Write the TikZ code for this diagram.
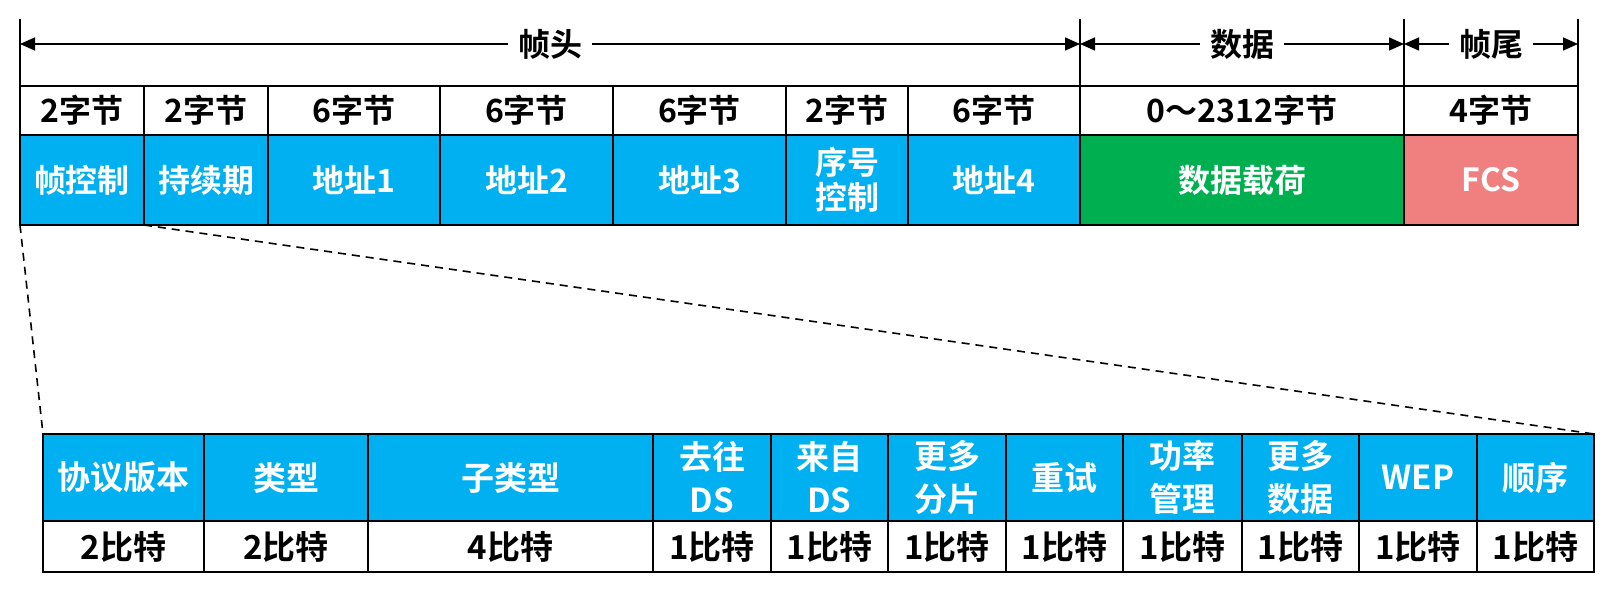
\documentclass[tikz,border=0pt]{standalone}
\usepackage{fontspec}
\setmainfont{Noto Sans CJK SC}[BoldFont={Noto Sans CJK SC Bold}]
\usetikzlibrary{arrows.meta}
\definecolor{cblue}{RGB}{0,176,240}
\definecolor{cgreen}{RGB}{0,176,80}
\definecolor{cpink}{RGB}{240,128,128}
\newcommand{\cellbox}[7]{\node[cell,#1,minimum width={(#4-#3)*1pt},minimum height={(#6-#5)*1pt}] (#2) at (#3,#5) {#7};}
\begin{document}
\begin{tikzpicture}[x=1pt,y=-1pt,
  cell/.style={draw=black, line width=1.7pt, anchor=north west, inner sep=0pt, outer sep=0pt, align=center},
  topf/.style={font=\fontsize{32}{35}\selectfont\bfseries},
  botf/.style={font=\fontsize{33}{43}\selectfont\bfseries},
  wcell/.style={fill=white, text=black},
  bcell/.style={fill=cblue, text=white},
  gcell/.style={fill=cgreen, text=white},
  pcell/.style={fill=cpink, text=white},
  span/.style={line width=1.7pt, {Triangle[length=15pt,width=13pt]}-{Triangle[length=15pt,width=13pt]}},
  lab/.style={fill=white, inner xsep=10pt, inner ysep=2pt, font=\fontsize{32}{34}\selectfont\bfseries},
  tick/.style={line width=1.7pt},
  zoomline/.style={line width=1.6pt, dash pattern=on 8pt off 6pt}]
\useasboundingbox (0,0) rectangle (1617,596);
% top ruler
\coordinate (t0u) at (20,19); \coordinate (t0d) at (20,86);
\coordinate (t1u) at (1080,19); \coordinate (t1d) at (1080,86);
\coordinate (t2u) at (1404,19); \coordinate (t2d) at (1404,86);
\coordinate (t3u) at (1578,19); \coordinate (t3d) at (1578,86);
\coordinate (a0) at (20,44); \coordinate (a1) at (1080,44);
\coordinate (a2) at (1404,44); \coordinate (a3) at (1578,44);
\draw[tick] (t0u) -- (t0d);
\draw[tick] (t1u) -- (t1d);
\draw[tick] (t2u) -- (t2d);
\draw[tick] (t3u) -- (t3d);
\draw[span] (a0) -- node[lab] (lhead) {帧头} (a1);
\draw[span] (a1) -- node[lab] (ldata) {数据} (a2);
\draw[span] (a2) -- node[lab] (ltail) {帧尾} (a3);
% top table, byte row
\cellbox{wcell,topf}{b1}{20}{144}{86}{135}{2字节}
\cellbox{wcell,topf}{b2}{144}{268}{86}{135}{2字节}
\cellbox{wcell,topf}{b3}{268}{440}{86}{135}{6字节}
\cellbox{wcell,topf}{b4}{440}{613}{86}{135}{6字节}
\cellbox{wcell,topf}{b5}{613}{786}{86}{135}{6字节}
\cellbox{wcell,topf}{b6}{786}{908}{86}{135}{2字节}
\cellbox{wcell,topf}{b7}{908}{1080}{86}{135}{6字节}
\cellbox{wcell,topf}{b8}{1080}{1404}{86}{135}{0～2312字节}
\cellbox{wcell,topf}{b9}{1404}{1578}{86}{135}{4字节}
% top table, field row
\cellbox{bcell,topf}{fc}{20}{144}{135}{225}{帧控制}
\cellbox{bcell,topf}{dur}{144}{268}{135}{225}{持续期}
\cellbox{bcell,topf}{ad1}{268}{440}{135}{225}{地址1}
\cellbox{bcell,topf}{ad2}{440}{613}{135}{225}{地址2}
\cellbox{bcell,topf}{ad3}{613}{786}{135}{225}{地址3}
\cellbox{bcell,topf}{sc}{786}{908}{135}{225}{序号\\控制}
\cellbox{bcell,topf}{ad4}{908}{1080}{135}{225}{地址4}
\cellbox{gcell,topf}{body}{1080}{1404}{135}{225}{数据载荷}
\cellbox{pcell,topf}{fcs}{1404}{1578}{135}{225}{FCS}
% bottom table, field row
\cellbox{bcell,botf}{pv}{43}{204}{434}{521}{协议版本}
\cellbox{bcell,botf}{ty}{204}{368}{434}{521}{类型}
\cellbox{bcell,botf}{st}{368}{653}{434}{521}{子类型}
\cellbox{bcell,botf}{tods}{653}{771}{434}{521}{去往\\DS}
\cellbox{bcell,botf}{frds}{771}{888}{434}{521}{来自\\DS}
\cellbox{bcell,botf}{mf}{888}{1006}{434}{521}{更多\\分片}
\cellbox{bcell,botf}{rt}{1006}{1123}{434}{521}{重试}
\cellbox{bcell,botf}{pm}{1123}{1242}{434}{521}{功率\\管理}
\cellbox{bcell,botf}{md}{1242}{1359}{434}{521}{更多\\数据}
\cellbox{bcell,botf}{wep}{1359}{1477}{434}{521}{WEP}
\cellbox{bcell,botf}{ord}{1477}{1594}{434}{521}{顺序}
% bottom table, bit row
\cellbox{wcell,botf}{c1}{43}{204}{521}{572}{2比特}
\cellbox{wcell,botf}{c2}{204}{368}{521}{572}{2比特}
\cellbox{wcell,botf}{c3}{368}{653}{521}{572}{4比特}
\cellbox{wcell,botf}{c4}{653}{771}{521}{572}{1比特}
\cellbox{wcell,botf}{c5}{771}{888}{521}{572}{1比特}
\cellbox{wcell,botf}{c6}{888}{1006}{521}{572}{1比特}
\cellbox{wcell,botf}{c7}{1006}{1123}{521}{572}{1比特}
\cellbox{wcell,botf}{c8}{1123}{1242}{521}{572}{1比特}
\cellbox{wcell,botf}{c9}{1242}{1359}{521}{572}{1比特}
\cellbox{wcell,botf}{c10}{1359}{1477}{521}{572}{1比特}
\cellbox{wcell,botf}{c11}{1477}{1594}{521}{572}{1比特}
% zoom lines
\draw[zoomline] (fc.south west) -- (pv.north west);
\draw[zoomline] (fc.south east) -- (ord.north east);
\end{tikzpicture}
\end{document}
